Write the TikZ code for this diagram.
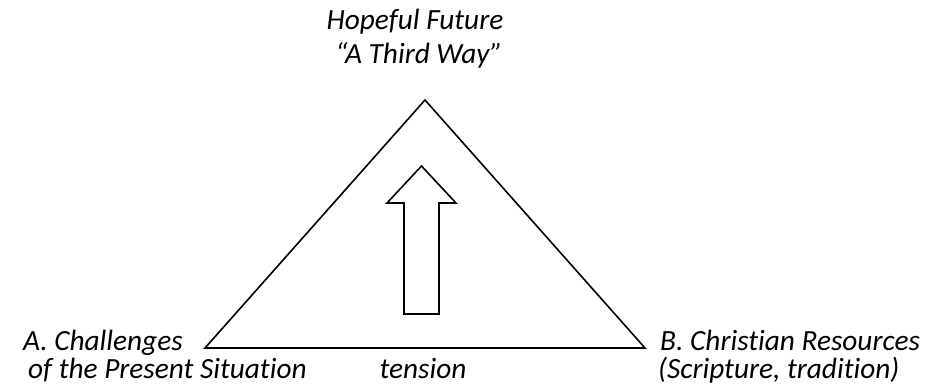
\documentclass[tikz,border=0pt]{standalone}
\usepackage{fontspec}
\setmainfont{Carlito}[Ligatures=CommonOff]
\begin{document}
\begin{tikzpicture}[x=1pt,y=-1pt,
  lbl/.style={font=\fontsize{29.3}{35}\selectfont\itshape, inner sep=0pt},
  shape line/.style={draw=black, line width=1.6pt, line join=miter}]
\useasboundingbox (0,0) rectangle (944,391);
% triangle
\coordinate (apex) at (425,100);
\coordinate (bl) at (205,348);
\coordinate (br) at (645,348);
\draw[shape line] (apex) -- (br) -- (bl) -- cycle;
% arrow
\coordinate (tip) at (421.5,166);
\draw[shape line] (tip) -- (456,203) -- (439,203) -- (439,314) -- (404,314) -- (404,203) -- (387,203) -- cycle;
% labels
\node[lbl, anchor=base] (top1) at (415,29) {Hopeful Future};
\node[lbl, anchor=base] (top2) at (419,63) {“A Third Way”};
\node[lbl, anchor=base west] (a1) at (23,350) {A. Challenges};
\node[lbl, anchor=base west] (a2) at (28,378) {of the Present Situation};
\node[lbl, anchor=base] (ten) at (423,378) {tension};
\node[lbl, anchor=base west] (b1) at (660,350) {B. Christian Resources};
\node[lbl, anchor=base west] (b2) at (658,378) {(Scripture, tradition)};
\end{tikzpicture}
\end{document}
